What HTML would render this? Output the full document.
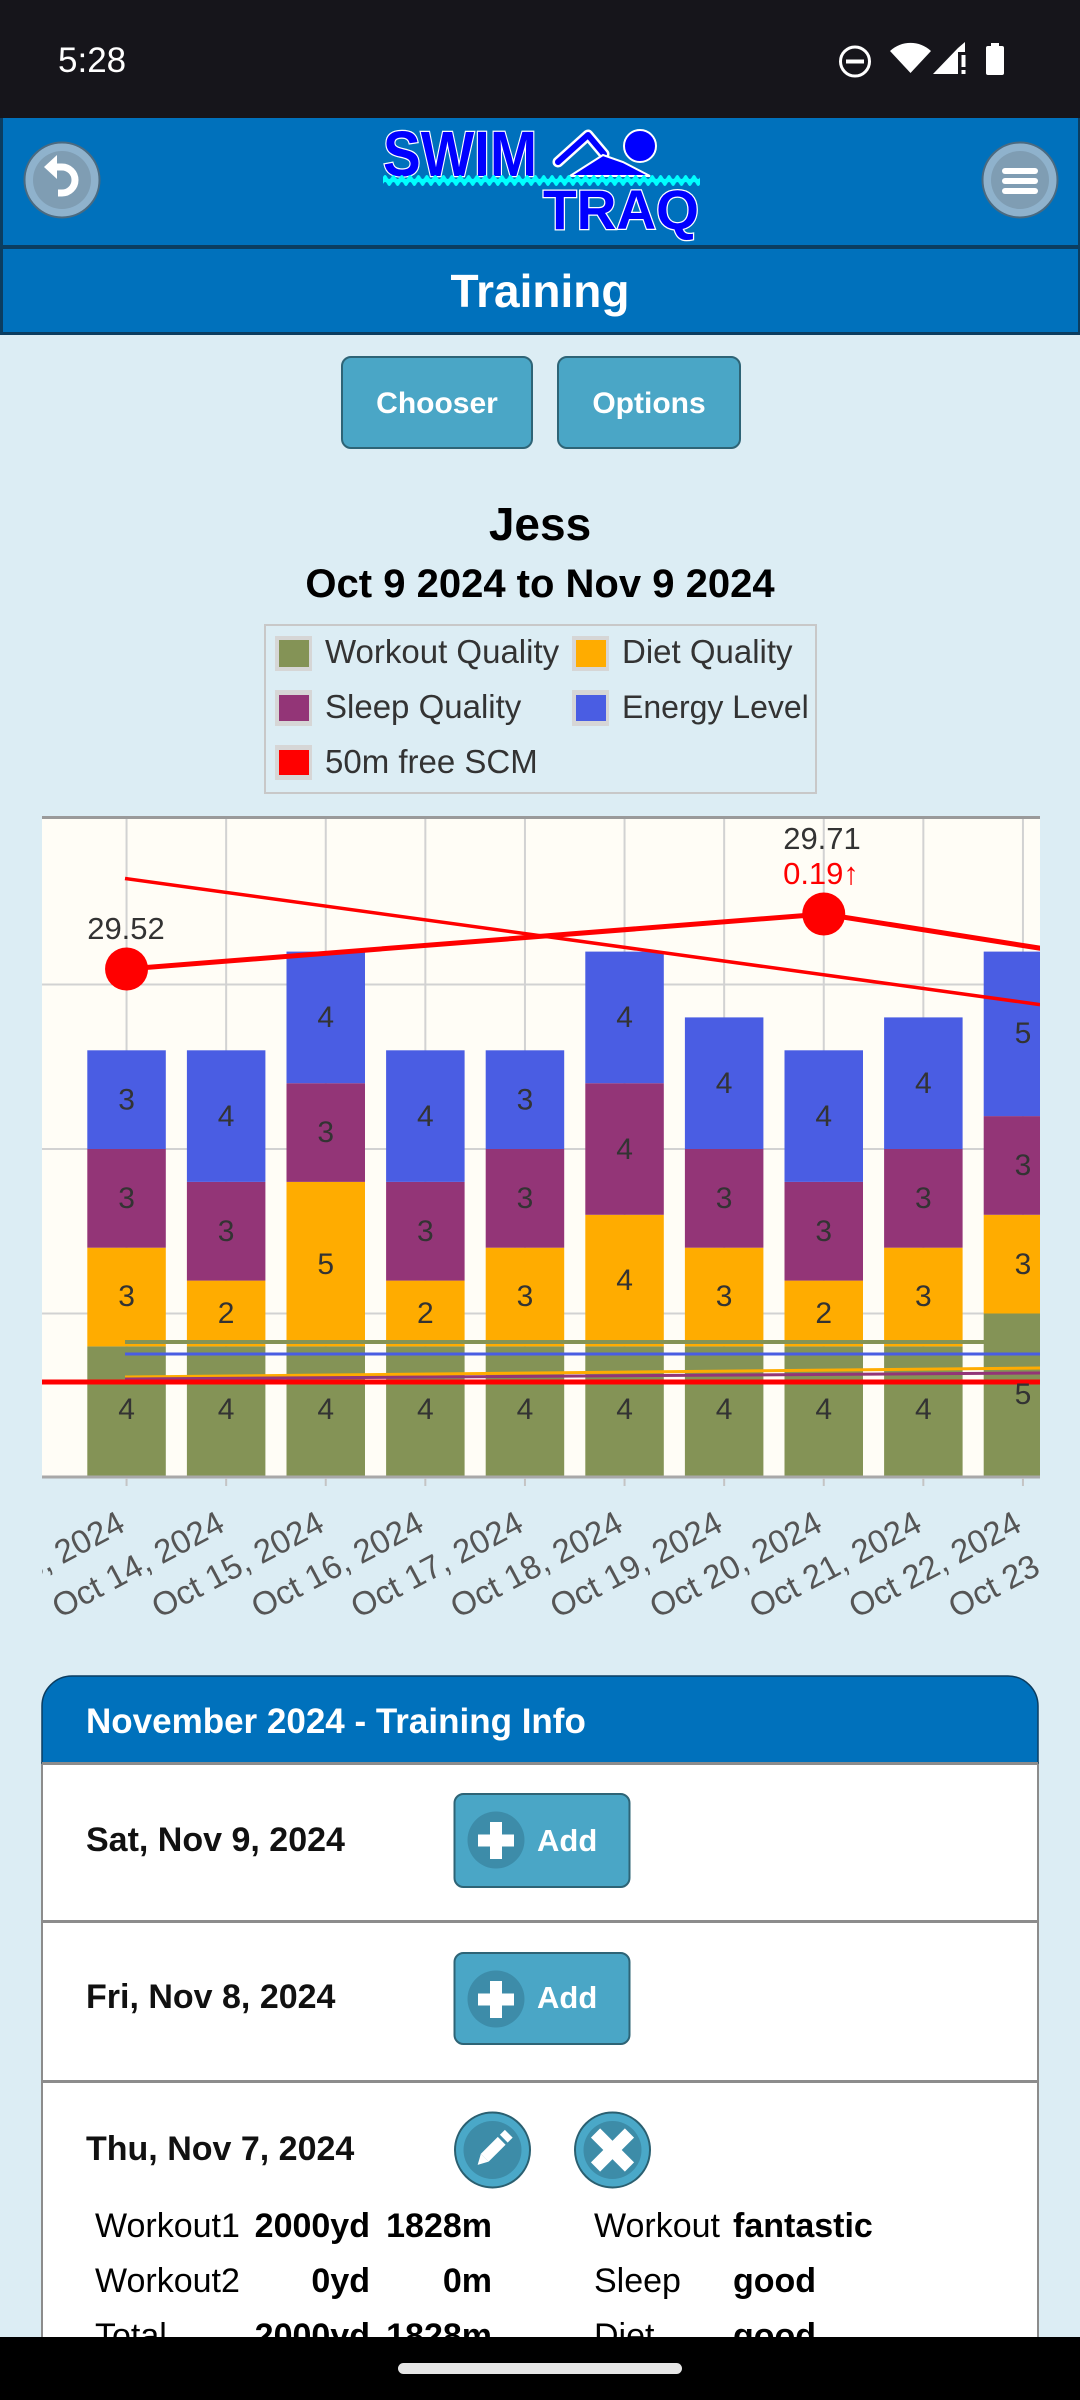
<!DOCTYPE html>
<html><head><meta charset="utf-8"><style>
html,body{margin:0;padding:0;background:#dcedf4;}
svg{display:block;}
text{font-family:"Liberation Sans",Arial,sans-serif;}
</style></head><body>
<svg width="1080" height="2400" viewBox="0 0 1080 2400" xmlns="http://www.w3.org/2000/svg">
<defs>
<clipPath id="plot"><rect x="42" y="816" width="998" height="670"/></clipPath>
<clipPath id="xl"><rect x="42" y="1480" width="998" height="180"/></clipPath>
<pattern id="wv" x="383" y="173" width="8.35" height="16" patternUnits="userSpaceOnUse"><path d="M0,4 Q2.1,0 4.17,4 T8.35,4 V11 Q6.26,15 4.17,11 T0,11 Z" fill="#00ffff"/></pattern>
</defs>
<rect x="0" y="0" width="1080" height="2400" fill="#dcedf4"/>

<!-- status bar -->
<rect x="0" y="0" width="1080" height="118" fill="#16151b"/>
<text x="58" y="72" font-size="35" fill="#fff">5:28</text>
<circle cx="855" cy="61.5" r="14.5" fill="none" stroke="#fff" stroke-width="3"/>
<rect x="846" y="59.5" width="18" height="4" fill="#fff"/>
<path d="M890,51 A30,30 0 0 1 931,51 L910.5,73 Z" fill="#fff"/>
<polygon points="933,74 958,48 958,74" fill="#fff"/>
<polygon points="958,48 965,42 965,52 958,52" fill="#fff"/>
<rect x="961.5" y="55" width="4" height="12" fill="#fff"/>
<rect x="961.5" y="70" width="4" height="4" fill="#fff"/>
<rect x="986" y="46" width="18" height="29" rx="2" fill="#fff"/>
<rect x="991" y="43" width="8" height="4" fill="#fff"/>

<!-- header -->
<rect x="0" y="118" width="1080" height="127" fill="#0071bc"/>
<rect x="0" y="245" width="1080" height="4" fill="#0b3d60"/>
<rect x="0" y="249" width="1080" height="83" fill="#0071bc"/>
<rect x="0" y="332" width="1080" height="3" fill="#0b3d60"/>
<rect x="0" y="118" width="3" height="217" fill="#0b3d60"/>
<rect x="1078" y="118" width="2" height="217" fill="#0b3d60"/>

<!-- back button -->
<circle cx="62" cy="180" r="37.5" fill="#8fb2cc" stroke="#4b6a80" stroke-width="2"/>
<circle cx="62" cy="180" r="29" fill="#7f9db3"/>
<path d="M53,167 h9 a13,13 0 0 1 0,26 h-4" fill="none" stroke="#fff" stroke-width="7"/>
<polygon points="44,167 57,155 57,179" fill="#fff"/>
<!-- menu button -->
<circle cx="1020" cy="180" r="37.5" fill="#8fb2cc" stroke="#4b6a80" stroke-width="2"/>
<circle cx="1020" cy="180" r="29" fill="#7f9db3"/>
<rect x="1002" y="168" width="36" height="6" rx="3" fill="#fff"/>
<rect x="1002" y="178" width="36" height="6" rx="3" fill="#fff"/>
<rect x="1002" y="188" width="36" height="6" rx="3" fill="#fff"/>

<!-- logo -->
<text x="383" y="176" font-weight="bold" font-size="64" textLength="154" lengthAdjust="spacingAndGlyphs" fill="#0000ff" stroke="#fff" stroke-width="2.5" paint-order="stroke">SWIM</text>
<polyline points="558,162 588,135 604,154" fill="none" stroke="#fff" stroke-width="11" stroke-linecap="round" stroke-linejoin="round"/>
<polyline points="558,162 588,135 604,154" fill="none" stroke="#0000ff" stroke-width="6" stroke-linecap="round" stroke-linejoin="round"/>
<polygon points="570,176 603,155 623,162 650,176" fill="#0000ff" stroke="#fff" stroke-width="2"/>
<circle cx="640" cy="146" r="16" fill="#0000ff" stroke="#fff" stroke-width="2"/>
<rect x="383" y="173" width="317" height="16" fill="url(#wv)"/>
<text x="543" y="229" font-weight="bold" font-size="56" textLength="156" lengthAdjust="spacingAndGlyphs" fill="#0000ff" stroke="#fff" stroke-width="2.5" paint-order="stroke">TRAQ</text>

<text x="540" y="307" font-size="46" font-weight="bold" fill="#fff" text-anchor="middle">Training</text>

<!-- buttons -->
<rect x="342" y="357" width="190" height="91" rx="9" fill="#4aa6c6" stroke="#2e6476" stroke-width="2"/>
<text x="437" y="413" font-size="30" font-weight="bold" fill="#fff" text-anchor="middle">Chooser</text>
<rect x="558" y="357" width="182" height="91" rx="9" fill="#4aa6c6" stroke="#2e6476" stroke-width="2"/>
<text x="649" y="413" font-size="30" font-weight="bold" fill="#fff" text-anchor="middle">Options</text>

<!-- titles -->
<text x="540" y="540" font-size="46" font-weight="bold" fill="#000" text-anchor="middle">Jess</text>
<text x="540" y="597" font-size="40" font-weight="bold" fill="#000" text-anchor="middle">Oct 9 2024 to Nov 9 2024</text>

<!-- legend -->
<rect x="265" y="625" width="551" height="168" fill="none" stroke="#c8c8c8" stroke-width="2"/>
<rect x="275" y="636" width="37" height="35" fill="#d6d6d6"/><rect x="279" y="640" width="30" height="27" fill="#849356"/>
<text x="325" y="663" font-size="33" fill="#333">Workout Quality</text>
<rect x="572" y="636" width="37" height="35" fill="#d6d6d6"/><rect x="576" y="640" width="30" height="27" fill="#ffac00"/>
<text x="622" y="663" font-size="33" fill="#333">Diet Quality</text>
<rect x="275" y="690" width="37" height="36" fill="#d6d6d6"/><rect x="279" y="695" width="30" height="26" fill="#933577"/>
<text x="325" y="718" font-size="33" fill="#333">Sleep Quality</text>
<rect x="572" y="690" width="37" height="36" fill="#d6d6d6"/><rect x="576" y="695" width="30" height="26" fill="#4a5de3"/>
<text x="622" y="718" font-size="32" fill="#333">Energy Level</text>
<rect x="275" y="745" width="37" height="35" fill="#d6d6d6"/><rect x="279" y="750" width="30" height="25" fill="#ff0000"/>
<text x="325" y="773" font-size="33" fill="#333">50m free SCM</text>

<!-- chart -->
<rect x="42" y="818" width="998" height="659" fill="#fffdf6"/>
<g clip-path="url(#plot)">
<g stroke="#d2d2d2" stroke-width="2">
<line x1="42" y1="984.5" x2="1040" y2="984.5"/>
<line x1="42" y1="1149" x2="1040" y2="1149"/>
<line x1="42" y1="1313.5" x2="1040" y2="1313.5"/>
<line x1="126.55" y1="818" x2="126.55" y2="1478"/>
<line x1="226.15" y1="818" x2="226.15" y2="1478"/>
<line x1="325.75" y1="818" x2="325.75" y2="1478"/>
<line x1="425.35" y1="818" x2="425.35" y2="1478"/>
<line x1="524.95" y1="818" x2="524.95" y2="1478"/>
<line x1="624.55" y1="818" x2="624.55" y2="1478"/>
<line x1="724.15" y1="818" x2="724.15" y2="1478"/>
<line x1="823.75" y1="818" x2="823.75" y2="1478"/>
<line x1="923.35" y1="818" x2="923.35" y2="1478"/>
<line x1="1022.95" y1="818" x2="1022.95" y2="1478"/>
</g>
<!-- bars -->
<g>
<rect x="87.3" y="1346.4" width="78.5" height="131.6" fill="#849356"/><rect x="87.3" y="1247.7" width="78.5" height="98.7" fill="#ffac00"/><rect x="87.3" y="1149" width="78.5" height="98.7" fill="#933577"/><rect x="87.3" y="1050.3" width="78.5" height="98.7" fill="#4a5de3"/>
<rect x="186.9" y="1346.4" width="78.5" height="131.6" fill="#849356"/><rect x="186.9" y="1280.6" width="78.5" height="65.8" fill="#ffac00"/><rect x="186.9" y="1181.9" width="78.5" height="98.7" fill="#933577"/><rect x="186.9" y="1050.3" width="78.5" height="131.6" fill="#4a5de3"/>
<rect x="286.5" y="1346.4" width="78.5" height="131.6" fill="#849356"/><rect x="286.5" y="1181.9" width="78.5" height="164.5" fill="#ffac00"/><rect x="286.5" y="1083.2" width="78.5" height="98.7" fill="#933577"/><rect x="286.5" y="951.6" width="78.5" height="131.6" fill="#4a5de3"/>
<rect x="386.1" y="1346.4" width="78.5" height="131.6" fill="#849356"/><rect x="386.1" y="1280.6" width="78.5" height="65.8" fill="#ffac00"/><rect x="386.1" y="1181.9" width="78.5" height="98.7" fill="#933577"/><rect x="386.1" y="1050.3" width="78.5" height="131.6" fill="#4a5de3"/>
<rect x="485.7" y="1346.4" width="78.5" height="131.6" fill="#849356"/><rect x="485.7" y="1247.7" width="78.5" height="98.7" fill="#ffac00"/><rect x="485.7" y="1149" width="78.5" height="98.7" fill="#933577"/><rect x="485.7" y="1050.3" width="78.5" height="98.7" fill="#4a5de3"/>
<rect x="585.3" y="1346.4" width="78.5" height="131.6" fill="#849356"/><rect x="585.3" y="1214.8" width="78.5" height="131.6" fill="#ffac00"/><rect x="585.3" y="1083.2" width="78.5" height="131.6" fill="#933577"/><rect x="585.3" y="951.6" width="78.5" height="131.6" fill="#4a5de3"/>
<rect x="684.9" y="1346.4" width="78.5" height="131.6" fill="#849356"/><rect x="684.9" y="1247.7" width="78.5" height="98.7" fill="#ffac00"/><rect x="684.9" y="1149" width="78.5" height="98.7" fill="#933577"/><rect x="684.9" y="1017.4" width="78.5" height="131.6" fill="#4a5de3"/>
<rect x="784.5" y="1346.4" width="78.5" height="131.6" fill="#849356"/><rect x="784.5" y="1280.6" width="78.5" height="65.8" fill="#ffac00"/><rect x="784.5" y="1181.9" width="78.5" height="98.7" fill="#933577"/><rect x="784.5" y="1050.3" width="78.5" height="131.6" fill="#4a5de3"/>
<rect x="884.1" y="1346.4" width="78.5" height="131.6" fill="#849356"/><rect x="884.1" y="1247.7" width="78.5" height="98.7" fill="#ffac00"/><rect x="884.1" y="1149" width="78.5" height="98.7" fill="#933577"/><rect x="884.1" y="1017.4" width="78.5" height="131.6" fill="#4a5de3"/>
<rect x="983.7" y="1313.5" width="78.5" height="164.5" fill="#849356"/><rect x="983.7" y="1214.8" width="78.5" height="98.7" fill="#ffac00"/><rect x="983.7" y="1116.1" width="78.5" height="98.7" fill="#933577"/><rect x="983.7" y="951.6" width="78.5" height="164.5" fill="#4a5de3"/>
</g>
<!-- lines -->
<line x1="125" y1="1342" x2="1040" y2="1342" stroke="#849356" stroke-width="4"/>
<line x1="125" y1="1354" x2="1040" y2="1354" stroke="#4a5de3" stroke-width="3"/>
<line x1="125" y1="1377" x2="1040" y2="1368" stroke="#ffac00" stroke-width="3"/>
<line x1="125" y1="1379" x2="1040" y2="1373" stroke="#933577" stroke-width="3"/>
<line x1="42" y1="1382" x2="1040" y2="1382" stroke="#ff0000" stroke-width="5"/>
<line x1="125" y1="878.5" x2="1040" y2="1004.6" stroke="#ff0000" stroke-width="3.5"/>
<polyline points="126.55,969 823.75,914 1045,949" fill="none" stroke="#ff0000" stroke-width="5"/>
<circle cx="126.55" cy="969" r="21.5" fill="#ff0000"/>
<circle cx="823.75" cy="914" r="21.5" fill="#ff0000"/>
<!-- point labels -->
<text x="126" y="939" font-size="31" fill="#333" text-anchor="middle">29.52</text>
<text x="822" y="849" font-size="31" fill="#333" text-anchor="middle">29.71</text>
<text x="821" y="884" font-size="31" fill="#ff0000" text-anchor="middle">0.19↑</text>
<!-- bar value labels -->
<g font-size="30" fill="#333" text-anchor="middle">
<text x="126.55" y="1419">4</text><text x="126.55" y="1306">3</text><text x="126.55" y="1208">3</text><text x="126.55" y="1109.5">3</text>
<text x="226.15" y="1419">4</text><text x="226.15" y="1323">2</text><text x="226.15" y="1241">3</text><text x="226.15" y="1126">4</text>
<text x="325.75" y="1419">4</text><text x="325.75" y="1274">5</text><text x="325.75" y="1142">3</text><text x="325.75" y="1027">4</text>
<text x="425.35" y="1419">4</text><text x="425.35" y="1323">2</text><text x="425.35" y="1241">3</text><text x="425.35" y="1126">4</text>
<text x="524.95" y="1419">4</text><text x="524.95" y="1306">3</text><text x="524.95" y="1208">3</text><text x="524.95" y="1109.5">3</text>
<text x="624.55" y="1419">4</text><text x="624.55" y="1290">4</text><text x="624.55" y="1159">4</text><text x="624.55" y="1027">4</text>
<text x="724.15" y="1419">4</text><text x="724.15" y="1306">3</text><text x="724.15" y="1208">3</text><text x="724.15" y="1093">4</text>
<text x="823.75" y="1419">4</text><text x="823.75" y="1323">2</text><text x="823.75" y="1241">3</text><text x="823.75" y="1126">4</text>
<text x="923.35" y="1419">4</text><text x="923.35" y="1306">3</text><text x="923.35" y="1208">3</text><text x="923.35" y="1093">4</text>
<text x="1022.95" y="1404">5</text><text x="1022.95" y="1274">3</text><text x="1022.95" y="1175">3</text><text x="1022.95" y="1043">5</text>
</g>
</g>
<!-- borders/axis -->
<rect x="42" y="816" width="998" height="3" fill="#9a9a9a"/>
<rect x="42" y="1475.5" width="998" height="3" fill="#a8a8a8"/>
<g stroke="#c4c4c4" stroke-width="2">
<line x1="126.55" y1="1478" x2="126.55" y2="1486"/><line x1="226.15" y1="1478" x2="226.15" y2="1486"/><line x1="325.75" y1="1478" x2="325.75" y2="1486"/><line x1="425.35" y1="1478" x2="425.35" y2="1486"/><line x1="524.95" y1="1478" x2="524.95" y2="1486"/><line x1="624.55" y1="1478" x2="624.55" y2="1486"/><line x1="724.15" y1="1478" x2="724.15" y2="1486"/><line x1="823.75" y1="1478" x2="823.75" y2="1486"/><line x1="923.35" y1="1478" x2="923.35" y2="1486"/><line x1="1022.95" y1="1478" x2="1022.95" y2="1486"/>
</g>
<g clip-path="url(#xl)" font-size="33" fill="#555" text-anchor="end">
<text transform="translate(127,1530) rotate(-28)">Oct 13, 2024</text>
<text transform="translate(226.6,1530) rotate(-28)">Oct 14, 2024</text>
<text transform="translate(326.2,1530) rotate(-28)">Oct 15, 2024</text>
<text transform="translate(425.8,1530) rotate(-28)">Oct 16, 2024</text>
<text transform="translate(525.4,1530) rotate(-28)">Oct 17, 2024</text>
<text transform="translate(625,1530) rotate(-28)">Oct 18, 2024</text>
<text transform="translate(724.6,1530) rotate(-28)">Oct 19, 2024</text>
<text transform="translate(824.2,1530) rotate(-28)">Oct 20, 2024</text>
<text transform="translate(923.8,1530) rotate(-28)">Oct 21, 2024</text>
<text transform="translate(1023.4,1530) rotate(-28)">Oct 22, 2024</text>
<text transform="translate(1123,1530) rotate(-28)">Oct 23, 2024</text>
</g>

<!-- card -->
<rect x="42" y="1763" width="996" height="640" fill="#fff" stroke="#8c8c8c" stroke-width="2"/>
<path d="M42,1706 a30,30 0 0 1 30,-30 h936 a30,30 0 0 1 30,30 v57 h-996 z" fill="#0071bc" stroke="#0b3d60" stroke-width="1.5"/>
<text x="86" y="1733" font-size="35" font-weight="bold" fill="#fff">November 2024 - Training Info</text>
<rect x="42" y="1762" width="996" height="3" fill="#8c8c8c"/>
<rect x="42" y="1920" width="996" height="3" fill="#8c8c8c"/>
<rect x="42" y="2080" width="996" height="3" fill="#8c8c8c"/>

<text x="86" y="1851" font-size="34" font-weight="bold" fill="#111">Sat, Nov 9, 2024</text>
<rect x="454.5" y="1794" width="175" height="93" rx="9" fill="#4aa6c6" stroke="#2e6476" stroke-width="2"/>
<circle cx="496" cy="1840" r="28.5" fill="#3d8ca9"/>
<rect x="490" y="1822" width="12" height="37" fill="#fff"/><rect x="478" y="1834.5" width="36" height="12" fill="#fff"/>
<text x="537" y="1851" font-size="31" font-weight="bold" fill="#fff">Add</text>

<text x="86" y="2008" font-size="34" font-weight="bold" fill="#111">Fri, Nov 8, 2024</text>
<rect x="454.5" y="1953" width="175" height="91" rx="9" fill="#4aa6c6" stroke="#2e6476" stroke-width="2"/>
<circle cx="496" cy="1999" r="28.5" fill="#3d8ca9"/>
<rect x="490" y="1981" width="12" height="37" fill="#fff"/><rect x="478" y="1993.5" width="36" height="12" fill="#fff"/>
<text x="537" y="2008" font-size="31" font-weight="bold" fill="#fff">Add</text>

<text x="86" y="2160" font-size="34" font-weight="bold" fill="#111">Thu, Nov 7, 2024</text>
<circle cx="492.5" cy="2150" r="37.5" fill="#4aa8c8" stroke="#2a5f70" stroke-width="2"/>
<circle cx="492.5" cy="2150" r="29" fill="#3d8ca8"/>
<g transform="translate(492.5,2150) rotate(45)" fill="#fff">
<rect x="-5.5" y="-23" width="11" height="7"/>
<rect x="-5.5" y="-13" width="11" height="24"/>
<polygon points="-5.5,11 5.5,11 0,21"/>
</g>
<circle cx="612.5" cy="2150" r="37.5" fill="#4aa8c8" stroke="#2a5f70" stroke-width="2"/>
<circle cx="612.5" cy="2150" r="29" fill="#3d8ca8"/>
<g transform="translate(612.5,2150)" fill="#fff">
<rect x="-24" y="-6.5" width="48" height="13" transform="rotate(45)"/>
<rect x="-24" y="-6.5" width="48" height="13" transform="rotate(-45)"/>
</g>

<g font-size="34" fill="#000">
<text x="95" y="2237">Workout1</text>
<text x="370" y="2237" font-weight="bold" text-anchor="end">2000yd</text>
<text x="492" y="2237" font-weight="bold" text-anchor="end">1828m</text>
<text x="594" y="2237">Workout</text>
<text x="733" y="2237" font-weight="bold">fantastic</text>
<text x="95" y="2292">Workout2</text>
<text x="370" y="2292" font-weight="bold" text-anchor="end">0yd</text>
<text x="492" y="2292" font-weight="bold" text-anchor="end">0m</text>
<text x="594" y="2292">Sleep</text>
<text x="733" y="2292" font-weight="bold">good</text>
<text x="95" y="2347">Total</text>
<text x="370" y="2347" font-weight="bold" text-anchor="end">2000yd</text>
<text x="492" y="2347" font-weight="bold" text-anchor="end">1828m</text>
<text x="594" y="2347">Diet</text>
<text x="733" y="2347" font-weight="bold">good</text>
</g>

<!-- nav bar -->
<rect x="0" y="2337" width="1080" height="63" fill="#000"/>
<rect x="398" y="2363" width="284" height="11" rx="5.5" fill="#e6e6e6"/>
</svg>
</body></html>
